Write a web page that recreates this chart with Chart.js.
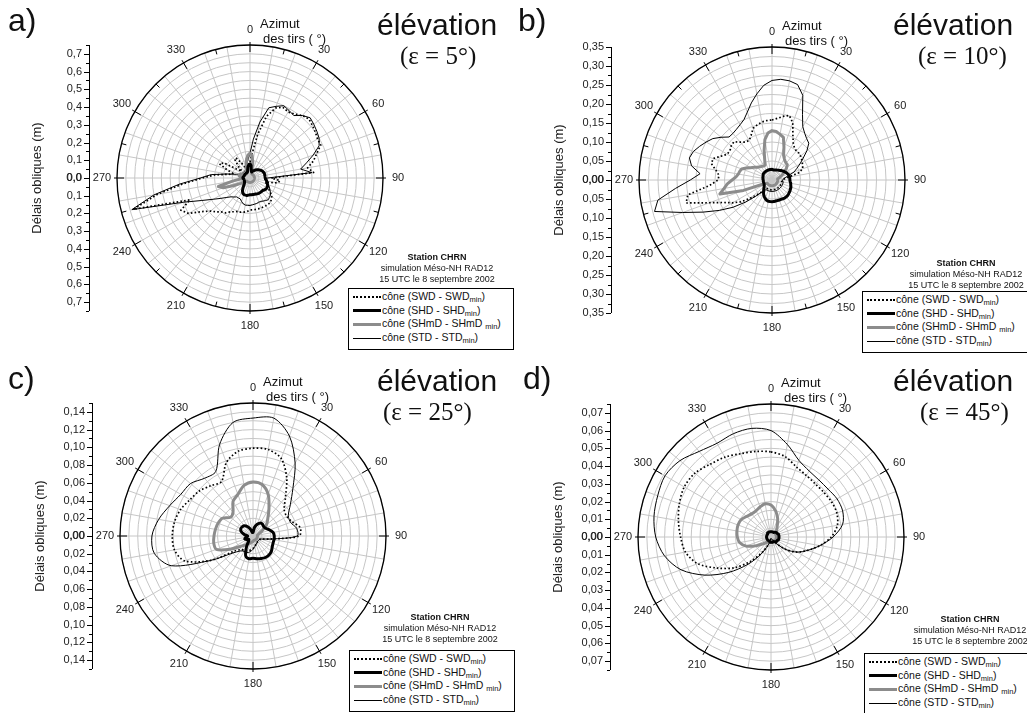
<!DOCTYPE html>
<html lang="fr">
<head>
<meta charset="utf-8">
<title>Délais obliques - Station CHRN</title>
<script src="https://cdn.jsdelivr.net/npm/chart.js@4.4.1/dist/chart.umd.min.js"></script>
<style>
  html, body { margin: 0; padding: 0; background: #fff; }
  #page { position: relative; width: 1027px; height: 713px; overflow: hidden;
          font-family: "Liberation Sans", Arial, sans-serif; color: #111; }
  canvas { position: absolute; }
  .t { position: absolute; white-space: nowrap; line-height: 1; }
  .tag { font-size: 32px; }
  .elev { font-size: 30px; }
  .eps { font-family: "Liberation Serif", "Times New Roman", serif; font-size: 25px; }
  .az { font-size: 13px; }
  .stn { position: absolute; width: 160px; text-align: center; font-size: 9px; line-height: 11px; white-space: nowrap; }
  .leg { position: absolute; border: 1px solid #000; box-sizing: border-box; font-size: 10.5px;
         padding: 1px 0 0 4px; background: #fff; }
  .row { height: 13.7px; line-height: 13.7px; white-space: nowrap; }
  .smp { display: inline-block; width: 28px; vertical-align: middle; margin-right: 1px; }
  sub { font-size: 7.5px; vertical-align: -2px; line-height: 0; }
</style>
</head>
<body>
<div id="page">
  <canvas id="ca" width="513" height="356" style="left:0;top:0"></canvas>
  <canvas id="cb" width="513" height="356" style="left:514px;top:0"></canvas>
  <canvas id="cc" width="513" height="356" style="left:0;top:357px"></canvas>
  <canvas id="cd" width="513" height="356" style="left:514px;top:357px"></canvas>
</div>
<script>
// azimuth categories (degrees)
const az5 = [];
for (let d = 0; d < 360; d += 5) az5.push(d);
const az10 = [];
for (let d = 0; d < 360; d += 10) az10.push(d);

const azLabels = [0, 30, 60, 90, 120, 150, 180, 210, 240, 270, 300, 330];

// left axis tick labels (m)
const yTicksA = [0.0, 0.1, 0.2, 0.3, 0.4, 0.5, 0.6, 0.7];
const yTicksB = [0.00, 0.05, 0.10, 0.15, 0.20, 0.25, 0.30, 0.35];
const yTicksC = [0.00, 0.02, 0.04, 0.06, 0.08, 0.10, 0.12, 0.14];
const yTicksD = [0.00, 0.01, 0.02, 0.03, 0.04, 0.05, 0.06, 0.07];

// a) elevation 5 deg, every 5 deg azimuth
const swdA = [0.09, 0.14, 0.25, 0.36, 0.42, 0.44, 0.43, 0.44, 0.46, 0.47, 0.46, 0.45,
  0.44, 0.44, 0.40, 0.37, 0.33, 0.36, 0.12, 0.17, 0.16, 0.09, 0.10, 0.11,
  0.12, 0.14, 0.16, 0.17, 0.18, 0.18, 0.18, 0.18, 0.18, 0.18, 0.18, 0.18,
  0.18, 0.19, 0.195, 0.20, 0.20, 0.21, 0.22, 0.24, 0.25, 0.27, 0.29, 0.33,
  0.40, 0.43, 0.36, 0.68, 0.53, 0.38, 0.27, 0.20, 0.12, 0.10, 0.14, 0.19,
  0.17, 0.08, 0.06, 0.09, 0.13, 0.14, 0.10, 0.07, 0.06, 0.07, 0.08, 0.08];
const shdA = [0.08, 0.07, 0.04, 0.035, 0.04, 0.045, 0.05, 0.055, 0.06, 0.065, 0.07, 0.075,
  0.08, 0.082, 0.085, 0.085, 0.085, 0.085, 0.086, 0.09, 0.095, 0.10, 0.105, 0.11,
  0.11, 0.11, 0.105, 0.10, 0.10, 0.10, 0.10, 0.098, 0.096, 0.095, 0.095, 0.095,
  0.095, 0.097, 0.10, 0.10, 0.10, 0.095, 0.085, 0.07, 0.055, 0.045, 0.04, 0.038,
  0.036, 0.035, 0.035, 0.035, 0.035, 0.038, 0.04, 0.04, 0.038, 0.036, 0.035, 0.035,
  0.035, 0.035, 0.035, 0.035, 0.035, 0.035, 0.035, 0.035, 0.04, 0.05, 0.065, 0.075];
const shmdA = [0.14, 0.13, 0.09, 0.04, 0.03, 0.025, 0.025, 0.025, 0.025, 0.025, 0.025, 0.025,
  0.025, 0.025, 0.025, 0.025, 0.025, 0.025, 0.025, 0.025, 0.025, 0.025, 0.025, 0.025,
  0.025, 0.025, 0.025, 0.025, 0.025, 0.025, 0.025, 0.025, 0.025, 0.025, 0.025, 0.025,
  0.025, 0.025, 0.025, 0.025, 0.025, 0.025, 0.025, 0.025, 0.025, 0.025, 0.03, 0.04,
  0.06, 0.10, 0.16, 0.185, 0.10, 0.05, 0.04, 0.05, 0.06, 0.065, 0.06, 0.055,
  0.045, 0.035, 0.03, 0.03, 0.03, 0.035, 0.04, 0.05, 0.06, 0.08, 0.11, 0.13];
const stdA = [0.14, 0.22, 0.32, 0.41, 0.43, 0.45, 0.44, 0.43, 0.46, 0.48, 0.47, 0.46,
  0.45, 0.43, 0.38, 0.33, 0.29, 0.35, 0.10, 0.08, 0.09, 0.10, 0.11, 0.12,
  0.13, 0.14, 0.15, 0.155, 0.16, 0.155, 0.15, 0.145, 0.145, 0.148, 0.15, 0.152,
  0.155, 0.155, 0.155, 0.15, 0.14, 0.13, 0.13, 0.13, 0.14, 0.15, 0.17, 0.20,
  0.24, 0.30, 0.40, 0.69, 0.55, 0.40, 0.28, 0.22, 0.13, 0.08, 0.06, 0.05,
  0.05, 0.05, 0.05, 0.05, 0.05, 0.05, 0.05, 0.06, 0.06, 0.07, 0.09, 0.11];

// b) elevation 10 deg, every 5 deg azimuth
const swdB = [0.158, 0.163, 0.17, 0.176, 0.16, 0.13, 0.112, 0.103, 0.10, 0.10, 0.098, 0.095,
  0.092, 0.089, 0.086, 0.072, 0.045, 0.032, 0.028, 0.027, 0.026, 0.026, 0.026, 0.026,
  0.026, 0.026, 0.026, 0.026, 0.026, 0.026, 0.026, 0.026, 0.026, 0.026, 0.026, 0.026,
  0.026, 0.026, 0.026, 0.026, 0.026, 0.026, 0.026, 0.03, 0.04, 0.055, 0.075, 0.10,
  0.12, 0.14, 0.175, 0.234, 0.225, 0.165, 0.142, 0.14, 0.15, 0.165, 0.165, 0.148,
  0.136, 0.135, 0.14, 0.142, 0.13, 0.122, 0.12, 0.13, 0.145, 0.15, 0.155, 0.157];
const shdB = [0.028, 0.027, 0.027, 0.027, 0.028, 0.029, 0.03, 0.031, 0.033, 0.035, 0.037, 0.039,
  0.041, 0.043, 0.045, 0.046, 0.047, 0.047, 0.047, 0.048, 0.05, 0.051, 0.053, 0.054,
  0.055, 0.056, 0.057, 0.058, 0.058, 0.058, 0.057, 0.056, 0.056, 0.056, 0.056, 0.057,
  0.057, 0.057, 0.057, 0.055, 0.052, 0.048, 0.044, 0.039, 0.034, 0.03, 0.027, 0.025,
  0.024, 0.023, 0.023, 0.023, 0.023, 0.023, 0.023, 0.024, 0.024, 0.025, 0.025, 0.026,
  0.027, 0.028, 0.028, 0.028, 0.028, 0.028, 0.028, 0.028, 0.028, 0.028, 0.028, 0.028];
const shmdB = [0.13, 0.128, 0.122, 0.116, 0.092, 0.072, 0.065, 0.06, 0.058, 0.057, 0.05, 0.042,
  0.035, 0.028, 0.022, 0.018, 0.015, 0.015, 0.015, 0.015, 0.015, 0.015, 0.015, 0.015,
  0.015, 0.015, 0.015, 0.015, 0.015, 0.015, 0.015, 0.015, 0.015, 0.015, 0.015, 0.015,
  0.015, 0.015, 0.015, 0.015, 0.015, 0.015, 0.015, 0.015, 0.015, 0.015, 0.015, 0.015,
  0.018, 0.025, 0.08, 0.142, 0.128, 0.118, 0.105, 0.095, 0.09, 0.088, 0.085, 0.075,
  0.065, 0.058, 0.052, 0.048, 0.046, 0.044, 0.043, 0.043, 0.056, 0.08, 0.108, 0.124];
const stdB = [0.262, 0.266, 0.265, 0.26, 0.237, 0.19, 0.162, 0.15, 0.142, 0.137, 0.12, 0.10,
  0.085, 0.072, 0.062, 0.045, 0.035, 0.03, 0.028, 0.028, 0.03, 0.03, 0.03, 0.03,
  0.03, 0.03, 0.03, 0.03, 0.03, 0.03, 0.03, 0.03, 0.03, 0.03, 0.03, 0.03,
  0.03, 0.03, 0.03, 0.03, 0.03, 0.03, 0.03, 0.032, 0.04, 0.06, 0.09, 0.125,
  0.16, 0.20, 0.25, 0.32, 0.305, 0.255, 0.215, 0.19, 0.215, 0.225, 0.22, 0.21,
  0.20, 0.19, 0.175, 0.16, 0.16, 0.163, 0.168, 0.175, 0.19, 0.21, 0.23, 0.25];

// c) elevation 25 deg, every 10 deg azimuth
const swdC = [0.099, 0.099, 0.093, 0.076, 0.057, 0.046, 0.044, 0.047, 0.054, 0.052, 0.02, 0.01,
  0.008, 0.008, 0.008, 0.009, 0.01, 0.012, 0.014, 0.016, 0.018, 0.019, 0.02, 0.026,
  0.055, 0.082, 0.09, 0.091, 0.09, 0.087, 0.082, 0.079, 0.074, 0.071, 0.088, 0.097];
const shdC = [0.004, 0.01, 0.014, 0.017, 0.017, 0.016, 0.017, 0.02, 0.023, 0.024, 0.024, 0.024,
  0.025, 0.027, 0.028, 0.028, 0.027, 0.026, 0.025, 0.026, 0.024, 0.015, 0.008, 0.006,
  0.008, 0.01, 0.008, 0.006, 0.01, 0.014, 0.016, 0.016, 0.015, 0.012, 0.008, 0.004];
const shmdC = [0.061, 0.059, 0.05, 0.036, 0.026, 0.02, 0.012, 0.007, 0.005, 0.005, 0.005, 0.005,
  0.005, 0.005, 0.005, 0.005, 0.005, 0.005, 0.006, 0.007, 0.008, 0.01, 0.013, 0.018,
  0.03, 0.044, 0.045, 0.044, 0.043, 0.042, 0.04, 0.033, 0.035, 0.045, 0.05, 0.058];
const stdC = [0.133, 0.135, 0.12, 0.095, 0.07, 0.055, 0.046, 0.045, 0.05, 0.05, 0.02, 0.01,
  0.008, 0.008, 0.008, 0.009, 0.01, 0.012, 0.015, 0.018, 0.02, 0.02, 0.022, 0.03,
  0.055, 0.098, 0.113, 0.114, 0.108, 0.10, 0.094, 0.092, 0.085, 0.084, 0.11, 0.13];

// d) elevation 45 deg, every 10 deg azimuth
const swdD = [0.048, 0.046, 0.042, 0.04, 0.039, 0.039, 0.0395, 0.0395, 0.038, 0.034, 0.028, 0.022,
  0.017, 0.011, 0.005, 0.002, 0.001, 0.001, 0.001, 0.002, 0.005, 0.01, 0.018, 0.027,
  0.035, 0.044, 0.049, 0.051, 0.053, 0.055, 0.0565, 0.056, 0.0535, 0.052, 0.05, 0.049];
const shdD = [0.003, 0.003, 0.003, 0.003, 0.0035, 0.004, 0.004, 0.0045, 0.0045, 0.0045, 0.0045, 0.0045,
  0.004, 0.004, 0.0035, 0.003, 0.003, 0.003, 0.003, 0.003, 0.0025, 0.0025, 0.0025, 0.0025,
  0.0025, 0.0025, 0.0025, 0.0025, 0.0025, 0.0025, 0.0025, 0.0025, 0.003, 0.003, 0.003, 0.003];
const shmdD = [0.018, 0.015, 0.011, 0.007, 0.005, 0.004, 0.003, 0.003, 0.003, 0.003, 0.003, 0.003,
  0.003, 0.003, 0.003, 0.003, 0.003, 0.003, 0.003, 0.003, 0.003, 0.003, 0.004, 0.006,
  0.01, 0.015, 0.018, 0.019, 0.0195, 0.0198, 0.0195, 0.018, 0.017, 0.017, 0.018, 0.019];
const stdD = [0.06, 0.053, 0.046, 0.043, 0.042, 0.042, 0.043, 0.043, 0.041, 0.035, 0.028, 0.022,
  0.017, 0.011, 0.005, 0.002, 0.001, 0.001, 0.001, 0.002, 0.005, 0.011, 0.02, 0.031,
  0.043, 0.054, 0.061, 0.065, 0.067, 0.068, 0.069, 0.067, 0.063, 0.061, 0.062, 0.0622];

const FONT = '"Liberation Sans", Arial, sans-serif';

// draws rim ticks, azimuth labels and the left "Délais obliques" axis from the r scale
const polarDeco = {
  id: 'polarDeco',
  afterDraw(chart) {
    const cfg = chart.options.plugins.polarDeco;
    const s = chart.scales.r;
    const ctx = chart.ctx;
    const cx = s.xCenter, cy = s.yCenter, R = s.drawingArea;
    ctx.save();

    ctx.strokeStyle = '#000';
    ctx.lineWidth = 1.3;
    ctx.beginPath();
    ctx.arc(cx, cy, R, 0, Math.PI * 2);
    ctx.stroke();

    const labels = chart.data.labels;
    ctx.lineWidth = 1;
    labels.forEach((deg, i) => {
      if (deg % 15 !== 0) return;
      const major = deg % 30 === 0;
      const p1 = s.getPointPosition(i, R - (major ? 7 : 5));
      const p2 = s.getPointPosition(i, R + (major ? 3 : 0));
      ctx.beginPath();
      ctx.moveTo(p1.x, p1.y);
      ctx.lineTo(p2.x, p2.y);
      ctx.stroke();
    });

    ctx.fillStyle = '#222';
    ctx.font = '11px ' + FONT;
    ctx.textAlign = 'center';
    ctx.textBaseline = 'middle';
    labels.forEach((deg, i) => {
      if (!azLabels.includes(deg)) return;
      const p = s.getPointPosition(i, R + 15);
      ctx.fillText(String(deg), p.x, p.y);
    });

    // left axis
    const ax = cx - 161;
    ctx.beginPath();
    ctx.moveTo(ax + 0.5, cy - R);
    ctx.lineTo(ax + 0.5, cy + R);
    ctx.stroke();
    const nMinor = Math.round(s.max / cfg.minor + 1e-6);
    for (let k = 0; k <= nMinor; k++) {
      const d = s.getDistanceFromCenterForValue(k * cfg.minor);
      const len = k % 2 === 0 ? 5 : 3;
      ctx.beginPath();
      ctx.moveTo(ax, Math.round(cy - d) + 0.5);
      ctx.lineTo(ax - len, Math.round(cy - d) + 0.5);
      ctx.moveTo(ax, Math.round(cy + d) + 0.5);
      ctx.lineTo(ax - len, Math.round(cy + d) + 0.5);
      ctx.stroke();
    }
    ctx.textAlign = 'right';
    cfg.yTicks.forEach(v => {
      const d = s.getDistanceFromCenterForValue(v);
      const txt = v.toFixed(cfg.dec).replace('.', ',');
      ctx.fillText(txt, ax - 7, cy - d);
      if (v > 0) ctx.fillText(txt, ax - 7, cy + d);
      else ctx.fillText(txt, ax - 7.4, cy - d);
    });

    ctx.translate(cx - 213, cy);
    ctx.rotate(-Math.PI / 2);
    ctx.textAlign = 'center';
    ctx.font = '13px ' + FONT;
    ctx.fillText('Délais obliques (m)', 0, 0);
    ctx.restore();
  }
};

function makePanel(id, labels, swd, shd, shmd, std, sc) {
  const R = 133;
  return new Chart(document.getElementById(id), {
    type: 'radar',
    data: {
      labels: labels,
      datasets: [
        { label: 'SHD', data: shd, borderColor: '#000', borderWidth: 3 },
        { label: 'SHmD', data: shmd, borderColor: '#8c8c8c', borderWidth: 3 },
        { label: 'SWD', data: swd, borderColor: '#000', borderWidth: 1.7, borderDash: [1.6, 2.2] },
        { label: 'STD', data: std, borderColor: '#000', borderWidth: 1 }
      ]
    },
    options: {
      responsive: false,
      animation: false,
      layout: { padding: { left: sc.cx - R, top: sc.cy - R, right: 513 - sc.cx - R, bottom: 356 - sc.cy - R } },
      elements: {
        point: { radius: 0, hitRadius: 0, hoverRadius: 0 },
        line: { fill: false, tension: sc.tension, borderJoinStyle: 'round', backgroundColor: 'transparent' }
      },
      plugins: {
        legend: { display: false },
        tooltip: { enabled: false },
        polarDeco: { minor: sc.minor, yTicks: sc.yTicks, dec: sc.dec }
      },
      scales: {
        r: {
          min: 0,
          max: sc.max,
          startAngle: 0,
          ticks: { display: false, stepSize: sc.grid },
          pointLabels: { display: false },
          grid: { circular: true, color: '#c6c6c6', lineWidth: 1 },
          angleLines: { color: '#c6c6c6', lineWidth: c => (labels[c.index] % 10 === 0 ? 1 : 0) }
        }
      }
    },
    plugins: [polarDeco]
  });
}

makePanel('ca', az5, swdA, shdA, shmdA, stdA,
  { cx: 250, cy: 178, max: 0.75, grid: 0.05, minor: 0.05, yTicks: yTicksA, dec: 1, tension: 0 });
makePanel('cb', az5, swdB, shdB, shmdB, stdB,
  { cx: 258, cy: 180, max: 0.35, grid: 0.025, minor: 0.025, yTicks: yTicksB, dec: 2, tension: 0 });
makePanel('cc', az10, swdC, shdC, shmdC, stdC,
  { cx: 253, cy: 179, max: 0.15, grid: 0.01, minor: 0.01, yTicks: yTicksC, dec: 2, tension: 0.3 });
makePanel('cd', az10, swdD, shdD, shmdD, stdD,
  { cx: 257, cy: 180, max: 0.075, grid: 0.005, minor: 0.005, yTicks: yTicksD, dec: 2, tension: 0.3 });

// text overlays (page coordinates)
const page = document.getElementById('page');
function addText(cls, html, left, top) {
  const el = document.createElement('div');
  el.className = 't ' + cls;
  el.innerHTML = html;
  el.style.left = left + 'px';
  el.style.top = top + 'px';
  page.appendChild(el);
}
const overlays = [
  { tag: 'a)', tx: 8, ty: 4, ex: 377, ey: 10, eps: '(ε = 5°)', px: 400, py: 43, cx: 250, cy: 178, sx: 437, sy: 252, lx: 348, ly: 288 },
  { tag: 'b)', tx: 518, ty: 4, ex: 893, ey: 10, eps: '(ε = 10°)', px: 918, py: 43, cx: 772, cy: 180, sx: 966, sy: 258, lx: 862, ly: 291 },
  { tag: 'c)', tx: 8, ty: 362, ex: 377, ey: 366, eps: '(ε = 25°)', px: 383, py: 399, cx: 253, cy: 536, sx: 440, sy: 612, lx: 349, ly: 650 },
  { tag: 'd)', tx: 523, ty: 362, ex: 893, ey: 366, eps: '(ε = 45°)', px: 920, py: 399, cx: 771, cy: 537, sx: 970, sy: 614, lx: 864, ly: 653 }
];
overlays.forEach(o => {
  addText('tag', o.tag, o.tx, o.ty);
  addText('elev', 'élévation', o.ex, o.ey);
  addText('eps', o.eps, o.px, o.py);
  addText('az', 'Azimut', o.cx + 10, o.cy - 161);
  addText('az', 'des tirs ( °)', o.cx + 13, o.cy - 146);

  const st = document.createElement('div');
  st.className = 'stn';
  st.style.left = (o.sx - 80) + 'px';
  st.style.top = o.sy + 'px';
  st.innerHTML = '<b>Station CHRN</b><br>simulation Méso-NH RAD12<br>15 UTC le 8 septembre 2002';
  page.appendChild(st);

  const lg = document.createElement('div');
  lg.className = 'leg';
  lg.style.left = o.lx + 'px';
  lg.style.top = o.ly + 'px';
  lg.style.width = '166px';
  lg.style.height = '62px';
  lg.innerHTML =
    '<div class="row"><span class="smp" style="border-top:2px dotted #000"></span>cône (SWD - SWD<sub>min</sub>)</div>' +
    '<div class="row"><span class="smp" style="border-top:3px solid #000"></span>cône (SHD - SHD<sub>min</sub>)</div>' +
    '<div class="row"><span class="smp" style="border-top:3px solid #8c8c8c"></span>cône (SHmD - SHmD <sub>min</sub>)</div>' +
    '<div class="row"><span class="smp" style="border-top:1px solid #000"></span>cône (STD - STD<sub>min</sub>)</div>';
  page.appendChild(lg);
});
</script>
</body>
</html>
